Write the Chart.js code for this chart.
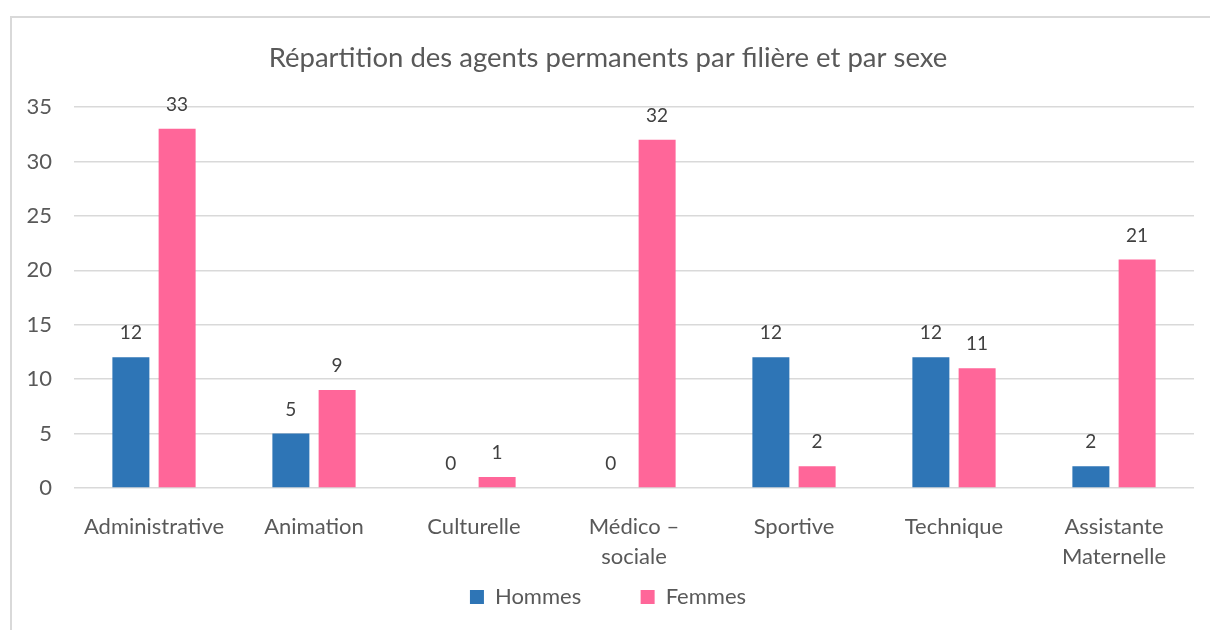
<!DOCTYPE html>
<html>
<head>
<meta charset="utf-8">
<script src="https://cdn.jsdelivr.net/npm/chart.js@4/dist/chart.umd.min.js"></script>
<style>
body{margin:0;background:#fff;overflow:hidden;}
#frame{position:absolute;left:10px;top:16px;width:1220px;height:640px;border:2px solid #d9d9d9;box-sizing:border-box;}
#chart{position:absolute;left:0;top:0;}
</style>
</head>
<body>
<div id="frame"></div>
<canvas id="chart" width="1210" height="630"></canvas>
<script>

const filieres=["Administrative","Animation","Culturelle",["Médico –","sociale"],"Sportive","Technique",["Assistante","Maternelle"]];

const hommes=[12,5,0,0,12,12,2];

const femmes=[33,9,1,32,2,11,21];

const yTicks=[0,5,10,15,20,25,30,35];

const txt="#595959";

// valeurs au-dessus des barres
const valueLabels={
id:"valueLabels",
afterDatasetsDraw(chart){
const ctx=chart.ctx;
ctx.save();
ctx.font="19px Lato";
ctx.fillStyle="#404040";
ctx.textAlign="center";
ctx.textBaseline="middle";
chart.data.datasets.forEach((ds,i)=>{
chart.getDatasetMeta(i).data.forEach((bar,j)=>{
ctx.fillText(ds.data[j],bar.x,bar.y-24);
});
});
ctx.restore();
}
};

new Chart(document.getElementById("chart"),{

type:"bar",

data:{
labels:filieres,
datasets:[
{label:"Hommes",data:hommes,backgroundColor:"#2E75B6",categoryPercentage:0.578,barPercentage:0.8},
{label:"Femmes",data:femmes,backgroundColor:"#FF6699",categoryPercentage:0.578,barPercentage:0.8}
]
},

options:{
responsive:false,
animation:false,
layout:{padding:{left:22,right:16,top:0,bottom:12}},
plugins:{
title:{
display:true,
text:"Répartition des agents permanents par filière et par sexe",
color:txt,
font:{family:"Lato",size:27.5,weight:"normal"},
padding:{top:42,bottom:32}
},
legend:{
position:"bottom",
labels:{
color:txt,
font:{family:"Lato",size:22},
boxWidth:14,
boxHeight:14,
padding:20,
// espace entre les deux entrées
generateLabels(chart){
const items=Chart.defaults.plugins.legend.labels.generateLabels(chart);
items[0].text+="       ";
return items;
}
}
},
tooltip:{enabled:false}
},
scales:{
x:{
grid:{display:false},
border:{display:false},
ticks:{
color:txt,
font:{family:"Lato",size:22,lineHeight:1.36},
padding:16,
maxRotation:0,
autoSkip:false
},
afterFit(s){s.height=78;}
},
y:{
min:0,
max:35,
afterBuildTicks(s){s.ticks=yTicks.map(v=>({value:v}));},
grid:{color:"#d9d9d9",lineWidth:1.5,drawTicks:false},
border:{display:false},
ticks:{
color:txt,
font:{family:"Lato",size:22},
padding:22
},
afterFit(s){s.width=52;}
}
}
},

plugins:[valueLabels]

});

</script>
</body>
</html>
